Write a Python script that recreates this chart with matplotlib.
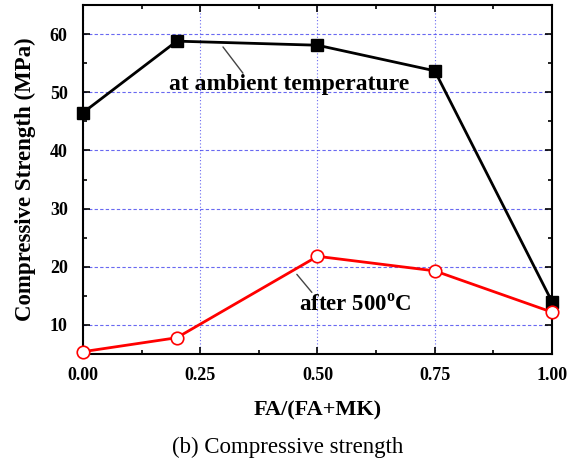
import matplotlib
matplotlib.use("Agg")
import matplotlib.pyplot as plt
from matplotlib.ticker import MultipleLocator

x_ratio = [0.0, 0.2, 0.5, 0.75, 1.0]
ambient = [46.5, 58.8, 58.1, 53.7, 14.0]
after500 = [5.4, 7.8, 21.8, 19.3, 12.2]
x_ticks = [0.00, 0.25, 0.50, 0.75, 1.00]
x_tick_labels = ["0.00", "0.25", "0.50", "0.75", "1.00"]
y_ticks = [10, 20, 30, 40, 50, 60]

plt.rcParams['font.family'] = ['Liberation Serif', 'DejaVu Serif']
plt.rcParams['mathtext.fontset'] = 'custom'
plt.rcParams['mathtext.rm'] = 'Liberation Serif'
plt.rcParams['mathtext.bf'] = 'Liberation Serif:bold'

fig = plt.figure(figsize=(5.7, 4.63), dpi=100)
ax = fig.add_axes([0.1456, 0.2354, 0.8228, 0.7536])

ax.plot(x_ratio, ambient, color='black', lw=2, marker='s', markersize=8,
        markerfacecolor='black', markeredgecolor='black', zorder=3, clip_on=False)
ax.plot(x_ratio, after500, color='red', lw=2, marker='o', markersize=9,
        markerfacecolor='white', markeredgecolor='red', markeredgewidth=1.2,
        zorder=4, clip_on=False)

ax.set_xlim(0, 1.0)
ax.set_ylim(5, 65)
ax.set_xticks(x_ticks)
ax.set_xticklabels(x_tick_labels)
ax.set_yticks(y_ticks)
ax.xaxis.set_minor_locator(MultipleLocator(0.125))
ax.yaxis.set_minor_locator(MultipleLocator(5))
ax.tick_params(which='both', direction='in', top=True, right=True, width=1.2)
ax.tick_params(which='major', length=5, labelsize=13, pad=9)
ax.tick_params(axis='y', which='major', pad=11)
ax.tick_params(which='minor', length=3)
for lab in ax.get_xticklabels() + ax.get_yticklabels():
    lab.set_fontweight('bold')

ax.grid(True, axis='y', color='#4444ee', linestyle=(0, (3, 2)), lw=0.8, alpha=0.8)
ax.grid(True, axis='x', color='#4444ee', linestyle=(0, (1, 2)), lw=0.8, alpha=0.8)
ax.set_axisbelow(True)
for s in ax.spines.values():
    s.set_linewidth(1.5)

ax.set_ylabel("Compressive Strength (MPa)", fontsize=16.5, fontweight='bold', labelpad=10)
ax.set_xlabel("FA/(FA+MK)", fontsize=16, fontweight='bold', labelpad=12)

# leader lines
ax.annotate("", xy=(0.2985, 57.8), xytext=(0.341, 53.3),
            arrowprops=dict(arrowstyle='-', color='#444444', lw=1, shrinkA=0, shrinkB=0))
ax.annotate("", xy=(0.456, 18.7), xytext=(0.488, 15.6),
            arrowprops=dict(arrowstyle='-', color='#444444', lw=1, shrinkA=0, shrinkB=0))

ax.text(0.439, 51.4, "at ambient temperature", ha='center', va='center',
        fontsize=17, fontweight='bold')
ax.text(0.58, 13.5, r"after 500$^{\mathbf{o}}$C", ha='center', va='center',
        fontsize=16.5, fontweight='bold')

fig.text(0.505, 1 - 447 / 463, "(b) Compressive strength", ha='center', va='center',
         fontsize=16.5)

fig.savefig("out.png", dpi=100)
